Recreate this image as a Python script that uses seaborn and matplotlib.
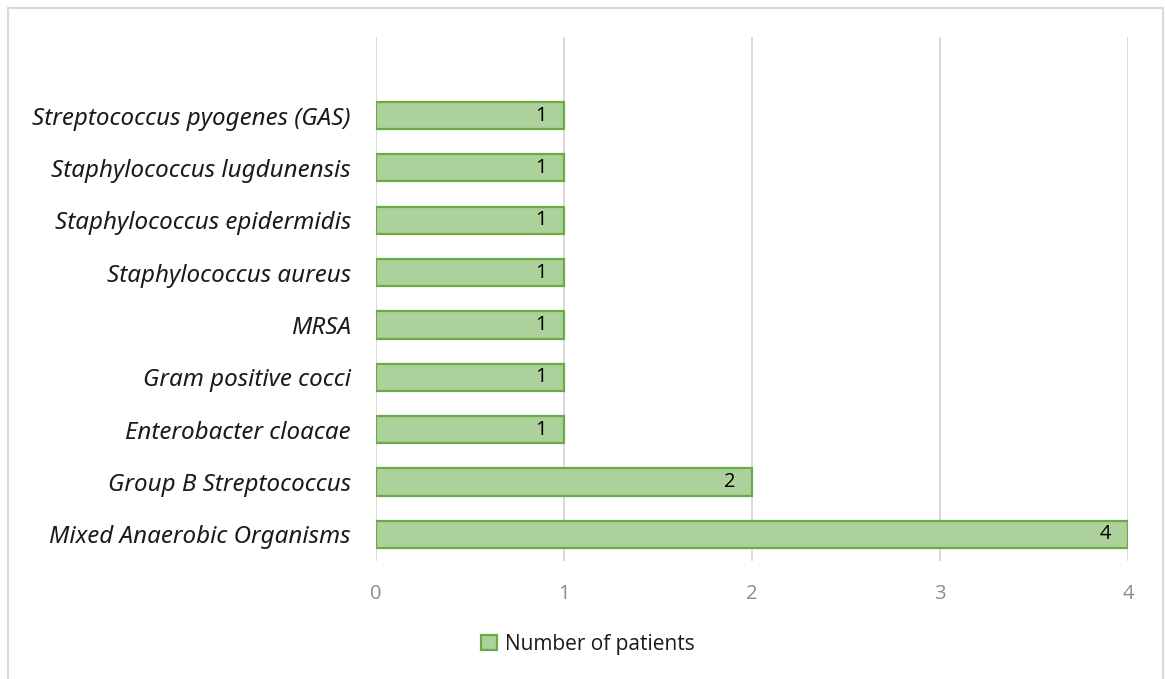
import matplotlib
matplotlib.use("Agg")
import matplotlib.pyplot as plt
from matplotlib.patches import Rectangle
import seaborn as sns
import pandas as pd

organisms = [
    "Streptococcus pyogenes (GAS)",
    "Staphylococcus lugdunensis",
    "Staphylococcus epidermidis",
    "Staphylococcus aureus",
    "MRSA",
    "Gram positive cocci",
    "Enterobacter cloacae",
    "Group B Streptococcus",
    "Mixed Anaerobic Organisms",
]
patients = [1, 1, 1, 1, 1, 1, 1, 2, 4]
series_name = "Number of patients"
x_ticks = [0, 1, 2, 3, 4]

df = pd.DataFrame({"organism": organisms, "patients": patients, "series": series_name})

sns.set_theme(style="white")
plt.rcParams["font.family"] = ["Open Sans", "DejaVu Sans"]

fig = plt.figure(figsize=(11.65, 6.79), dpi=100)
ax = fig.add_axes([0.3227, 0.1745, 0.6455, 0.771])

fill = "#acd19a"
edge = "#6aab46"
sns.barplot(
    data=df, x="patients", y="organism", hue="series", orient="h",
    palette=[fill], saturation=1, edgecolor=edge, linewidth=1.6, width=0.52,
    dodge=False, ax=ax, legend=True,
)

# one empty slot above the first category
ax.set_ylim(len(organisms) - 0.5, -1.5)
ax.set_xlim(0, 4)
ax.set_xticks(x_ticks)
ax.set_xticklabels([str(t) for t in x_ticks], fontsize=14.5, color="#8c8c8c")
ax.set_yticks(range(len(organisms)))
ax.set_yticklabels(organisms, fontsize=17.4, style="italic", color="#1a1a1a",
                   family=["Noto Sans", "DejaVu Sans"])
ax.tick_params(axis="y", length=0, pad=18)
ax.tick_params(axis="x", length=0, pad=17)
ax.set_xlabel("")
ax.set_ylabel("")

ax.grid(axis="x", color="#d9d9d9", linewidth=1.4)
ax.set_axisbelow(True)
for s in ax.spines.values():
    s.set_visible(False)

for i, v in enumerate(patients):
    ax.annotate(str(v), xy=(v, i), xytext=(-12, 0), textcoords="offset points",
                ha="right", va="center", fontsize=14.5, color="#000000")

handles, labels = ax.get_legend_handles_labels()
ax.legend_.remove()
fig.legend(handles, labels, loc="center", bbox_to_anchor=(0.505, 0.0515),
           frameon=False, fontsize=15, handlelength=0.75, handleheight=0.75,
           handletextpad=0.4, labelcolor="#1a1a1a")

# outer chart frame
fig.patches.append(Rectangle((8 / 1165, -0.05), (1163 - 8) / 1165, 1.05 - 8 / 679,
                             transform=fig.transFigure, fill=False,
                             edgecolor="#d9d9d9", linewidth=1.5))

fig.savefig("out.png", dpi=100, facecolor="white")
